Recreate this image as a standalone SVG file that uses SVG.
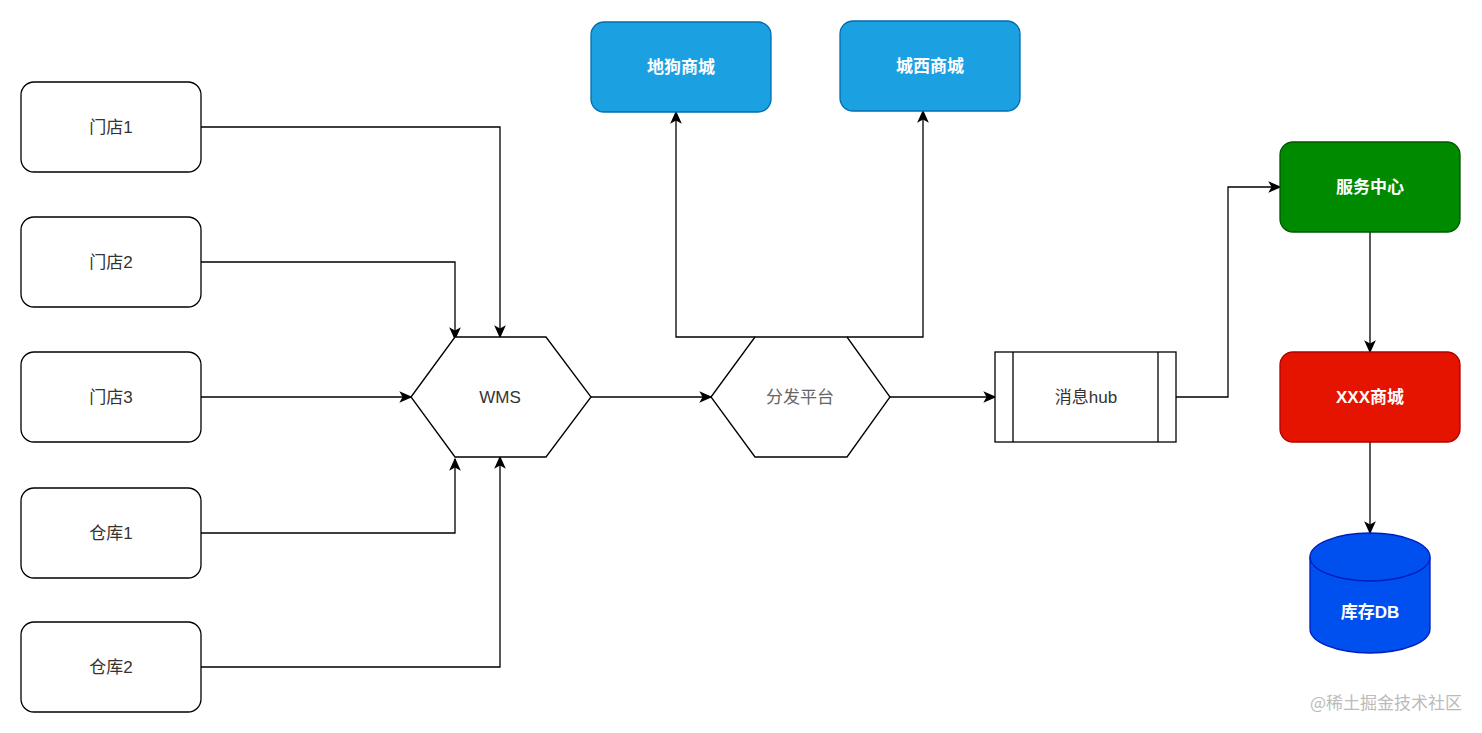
<svg xmlns="http://www.w3.org/2000/svg" width="1482" height="733" viewBox="0 0 1482 733">
<defs>
<style>
.w{fill:#fff;stroke:#000;stroke-width:1.3}
.t{font-family:"Liberation Sans","Noto Sans CJK SC",sans-serif;font-size:17px;text-anchor:middle;dominant-baseline:central}
.d{fill:#333}.wt{fill:#fff;font-weight:bold}
.c{fill:none;stroke:#000;stroke-width:1.3;marker-end:url(#a)}
</style>
<marker id="a" viewBox="0 0 10 10" refX="9" refY="5" markerWidth="13" markerHeight="13" markerUnits="userSpaceOnUse" orient="auto"><path d="M0,0.5L10,5L0,9.5L2.5,5z" fill="#000"/></marker>
</defs>
<rect width="1482" height="733" fill="#fff"/>
<g id="connectors">
<path class="c" d="M201,127H500V337"/>
<path class="c" d="M201,262H455V339"/>
<path class="c" d="M201,397H411"/>
<path class="c" d="M201,533H455V459"/>
<path class="c" d="M201,667H500V457"/>
<path class="c" d="M591,397H711"/>
<path class="c" d="M755,337H676V112"/>
<path class="c" d="M847,337H923V111"/>
<path class="c" d="M890,397H995"/>
<path class="c" d="M1176,397H1228V187H1280"/>
<path class="c" d="M1370,232V352"/>
<path class="c" d="M1370,442V533"/>
</g>
<g id="md1"><rect class="w" x="21" y="82" width="180" height="90" rx="13"/><text class="t d" x="111" y="127">门店1</text></g>
<g id="md2"><rect class="w" x="21" y="217" width="180" height="90" rx="13"/><text class="t d" x="111" y="262">门店2</text></g>
<g id="md3"><rect class="w" x="21" y="352" width="180" height="90" rx="13"/><text class="t d" x="111" y="397">门店3</text></g>
<g id="ck1"><rect class="w" x="21" y="488" width="180" height="90" rx="13"/><text class="t d" x="111" y="533">仓库1</text></g>
<g id="ck2"><rect class="w" x="21" y="622" width="180" height="90" rx="13"/><text class="t d" x="111" y="667">仓库2</text></g>
<g id="wms"><polygon class="w" points="411,397 455,337 546,337 591,397 546,457 455,457"/><text class="t d" x="500" y="397">WMS</text></g>
<g id="ff"><polygon class="w" points="711,397 755,337 847,337 890,397 847,457 755,457"/><text class="t" fill="#666" x="800" y="397">分发平台</text></g>
<g id="hub"><rect class="w" x="995" y="352" width="181" height="90"/><path d="M1013,352V442M1158,352V442" stroke="#000" stroke-width="1.3"/><text class="t d" x="1086" y="397">消息hub</text></g>
<g id="dg"><rect x="591" y="22" width="180" height="90" rx="13" fill="#1ba1e2" stroke="#006eaf" stroke-width="1.3"/><text class="t wt" x="681" y="67">地狗商城</text></g>
<g id="cx"><rect x="840" y="21" width="180" height="90" rx="13" fill="#1ba1e2" stroke="#006eaf" stroke-width="1.3"/><text class="t wt" x="930" y="66">城西商城</text></g>
<g id="fw"><rect x="1280" y="142" width="180" height="90" rx="13" fill="#008a00" stroke="#005700" stroke-width="1.3"/><text class="t wt" x="1370" y="187">服务中心</text></g>
<g id="xxx"><rect x="1280" y="352" width="180" height="90" rx="13" fill="#e51400" stroke="#b20000" stroke-width="1.3"/><text class="t wt" x="1370" y="397">XXX商城</text></g>
<g id="db"><path d="M1310,557A60,24 0 0 1 1430,557V629A60,24 0 0 1 1310,629Z" fill="#0050ef" stroke="#001dbc" stroke-width="1.3"/><path d="M1310,557A60,24 0 0 0 1430,557" fill="none" stroke="#001dbc" stroke-width="1.3"/><text class="t wt" x="1370" y="612">库存DB</text></g>
<text x="1462" y="701" font-family="'Noto Sans CJK SC',sans-serif" font-size="17" fill="#bbb" text-anchor="end" dominant-baseline="central">@稀土掘金技术社区</text>
</svg>
